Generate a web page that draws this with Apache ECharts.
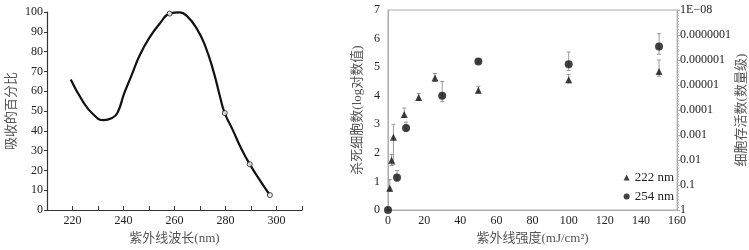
<!DOCTYPE html>
<html>
<head>
<meta charset="UTF-8">
<title></title>
<script src="https://cdn.jsdelivr.net/npm/echarts@6/dist/echarts.min.js"></script>
<style>
  html, body { margin: 0; padding: 0; background: #fff; }
  #main { width: 749px; height: 250px; }
</style>
</head>
<body>
<div id="main"></div>
<script>
// left: absorption curve
var waveCurve = [[219.3, 65.9], [224, 55], [228, 48.5], [232.2, 45.4], [235.5, 46.5], [237.6, 49], [240.3, 59], [243, 67.5],
  [246.5, 78.5], [250.5, 87.7], [254.4, 94.5], [258.1, 99.2], [262, 99.8], [265, 97.8], [268.8, 91.5], [272.1, 82.7],
  [275.4, 69.5], [278, 56.5], [279.7, 49], [283, 40], [286, 31.5], [289.5, 23.2], [293.7, 14.6], [297.4, 7.6]];
var waveMarks = [[258.1, 99.2], [279.7, 49], [289.5, 23.2], [297.4, 7.6]];

// right: killed cells vs dose
var dose222 = [1, 2, 3, 9, 17, 26, 50, 100, 150];
var kill222 = [0.76, 1.74, 2.55, 3.34, 3.94, 4.62, 4.19, 4.56, 4.85];
var low222 = [0.66, 1.56, 1.6, 3.24, 3.86, 4.5, 4.1, 4.45, 4.68];
var high222 = [1.07, 1.95, 3.0, 3.57, 4.08, 4.78, 4.33, 4.75, 5.25];

var dose254 = [0, 5, 10, 30, 50, 100, 150];
var kill254 = [0, 1.14, 2.87, 4.0, 5.2, 5.1, 5.72];
var low254 = [0, 1.01, 2.76, 3.8, 5.15, 4.88, 5.45];
var high254 = [0, 1.38, 3.08, 4.5, 5.25, 5.53, 6.17];

var survLabels = ['1', '0.1', '0.01', '0.001', '0.0001', '0.00001', '0.000001', '0.0000001', '1E\u221208'];

var font = '"Liberation Serif", "Noto Sans CJK SC", serif';

function pairs(xs, ys) {
  return xs.map(function (x, i) { return [x, ys[i]]; });
}
function bars(xs, lo, hi) {
  return xs.map(function (x, i) { return [x, lo[i], hi[i]]; });
}
function renderBar(params, api) {
  var x = api.value(0);
  var a = api.coord([x, api.value(1)]);
  var b = api.coord([x, api.value(2)]);
  var st = { stroke: '#9a9a9a', lineWidth: 1 };
  return {
    type: 'group',
    children: [
      { type: 'line', shape: { x1: a[0], y1: a[1], x2: b[0], y2: b[1] }, style: st },
      { type: 'line', shape: { x1: a[0] - 2, y1: a[1], x2: a[0] + 2, y2: a[1] }, style: st },
      { type: 'line', shape: { x1: b[0] - 2, y1: b[1], x2: b[0] + 2, y2: b[1] }, style: st }
    ]
  };
}

var chart = echarts.init(document.getElementById('main'));
chart.setOption({
  animation: false,
  textStyle: { fontFamily: font },
  grid: [
    { left: 47, right: 447, top: 12, bottom: 39 },
    { left: 388, right: 56, top: 10, bottom: 39, show: true, borderColor: '#aaa', borderWidth: 1 }
  ],
  legend: {
    right: 70, top: 166, orient: 'vertical', itemWidth: 6, itemHeight: 6, itemGap: 6,
    textStyle: { fontFamily: font, fontSize: 13, color: '#222' },
    data: [{ name: '222 nm', icon: 'triangle' }, { name: '254 nm', icon: 'circle' }]
  },
  xAxis: [
    {
      gridIndex: 0, type: 'value', min: 210, max: 310, interval: 10,
      name: '紫外线波长(nm)', nameLocation: 'middle', nameGap: 21,
      nameTextStyle: { fontFamily: font, fontSize: 13, color: '#555' },
      axisLine: { lineStyle: { color: '#333', width: 1.2 } },
      axisTick: { inside: true, length: 4, lineStyle: { color: '#333' } },
      axisLabel: {
        margin: 5, fontSize: 12, color: '#222', fontFamily: font,
        formatter: function (v) { return (v % 20 === 0) ? String(v) : ''; }
      },
      splitLine: { show: false }
    },
    {
      gridIndex: 1, type: 'value', min: 0, max: 160, interval: 20,
      name: '紫外线强度(mJ/cm²)', nameLocation: 'middle', nameGap: 21,
      nameTextStyle: { fontFamily: font, fontSize: 13, color: '#555' },
      axisLine: { lineStyle: { color: '#aaa' } },
      axisTick: { show: false },
      axisLabel: { margin: 5, fontSize: 12, color: '#222', fontFamily: font },
      splitLine: { show: false }
    }
  ],
  yAxis: [
    {
      gridIndex: 0, type: 'value', min: 0, max: 100, interval: 10,
      name: '吸收的百分比', nameLocation: 'middle', nameGap: 29, nameRotate: 90,
      nameTextStyle: { fontFamily: font, fontSize: 13, color: '#555' },
      axisLine: { show: true, lineStyle: { color: '#333', width: 1.2 } },
      axisTick: { show: true, length: 3, lineStyle: { color: '#333' } },
      axisLabel: { margin: 4, fontSize: 12, color: '#222', fontFamily: font },
      splitLine: { show: false }
    },
    {
      gridIndex: 1, type: 'value', min: 0, max: 7, interval: 1,
      name: '杀死细胞数(log对数值)', nameLocation: 'middle', nameGap: 24, nameRotate: 90,
      nameTextStyle: { fontFamily: font, fontSize: 13, color: '#555' },
      axisLine: { show: true, lineStyle: { color: '#aaa' } },
      axisTick: { show: false },
      axisLabel: { margin: 8, fontSize: 12, color: '#222', fontFamily: font },
      splitLine: { show: false }
    },
    {
      gridIndex: 1, type: 'value', min: 0, max: 8, interval: 1, position: 'right',
      name: '细胞存活数(数量级)', nameLocation: 'middle', nameGap: 42, nameRotate: 90,
      nameTextStyle: { fontFamily: font, fontSize: 13, color: '#555' },
      axisLine: { show: true, lineStyle: { color: '#aaa' } },
      axisTick: { show: true, inside: false, length: 3, lineStyle: { color: '#aaa' } },
      minorTick: { show: true, splitNumber: 9, length: 2, lineStyle: { color: '#bbb' } },
      axisLabel: {
        margin: 3, fontSize: 12, color: '#222', fontFamily: font,
        formatter: function (v) { return survLabels[v]; }
      },
      splitLine: { show: false }
    }
  ],
  series: [
    {
      type: 'line', xAxisIndex: 0, yAxisIndex: 0, data: waveCurve, smooth: 0.5,
      showSymbol: false, lineStyle: { color: '#111', width: 2.2 }, z: 2
    },
    {
      type: 'scatter', xAxisIndex: 0, yAxisIndex: 0, data: waveMarks, symbol: 'circle', symbolSize: 5,
      itemStyle: { color: '#fff', borderColor: '#111', borderWidth: 1 }, z: 3
    },
    {
      type: 'custom', xAxisIndex: 1, yAxisIndex: 1, data: bars(dose222, low222, high222),
      renderItem: renderBar, encode: { x: 0, y: [1, 2] }, z: 1
    },
    {
      type: 'custom', xAxisIndex: 1, yAxisIndex: 1, data: bars(dose254, low254, high254),
      renderItem: renderBar, encode: { x: 0, y: [1, 2] }, z: 1
    },
    {
      name: '222 nm', type: 'scatter', xAxisIndex: 1, yAxisIndex: 1, data: pairs(dose222, kill222),
      symbol: 'triangle', symbolSize: 7, itemStyle: { color: '#111' }, z: 3
    },
    {
      name: '254 nm', type: 'scatter', xAxisIndex: 1, yAxisIndex: 1, data: pairs(dose254, kill254),
      symbol: 'circle', symbolSize: 8, itemStyle: { color: '#111' }, z: 3
    }
  ]
});
</script>
</body>
</html>
